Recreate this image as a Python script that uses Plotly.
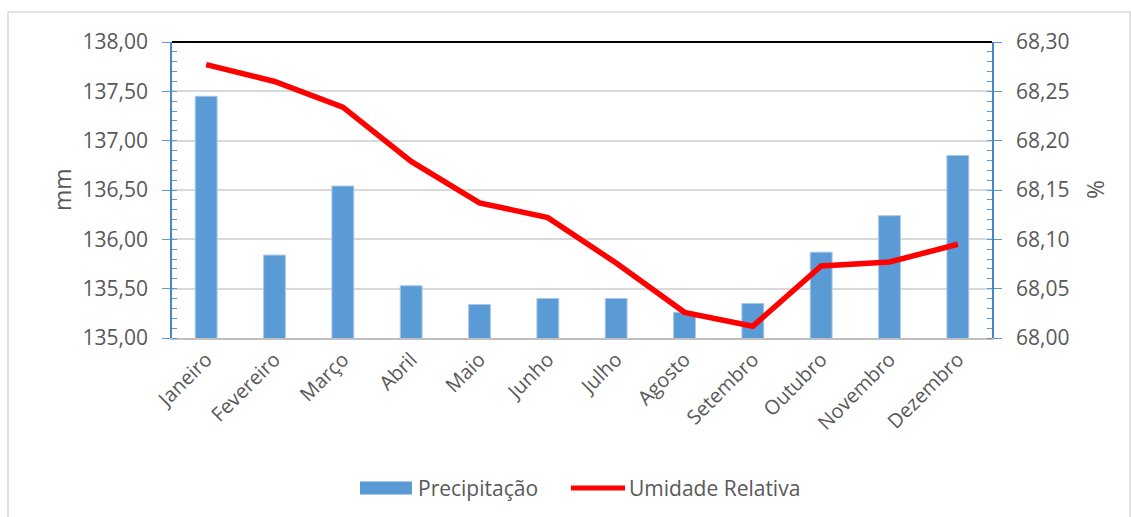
import plotly.graph_objects as go

# Monthly climate normals
meses = ["Janeiro", "Fevereiro", "Março", "Abril", "Maio", "Junho",
         "Julho", "Agosto", "Setembro", "Outubro", "Novembro", "Dezembro"]
precipitacao = [137.45, 135.84, 136.54, 135.53, 135.34, 135.40,
                135.40, 135.26, 135.35, 135.87, 136.24, 136.85]
umidade = [68.277, 68.260, 68.234, 68.179, 68.137, 68.122,
           68.076, 68.026, 68.012, 68.073, 68.077, 68.095]

mm_ticks = [135.0, 135.5, 136.0, 136.5, 137.0, 137.5, 138.0]
pct_ticks = [68.00, 68.05, 68.10, 68.15, 68.20, 68.25, 68.30]

NOME_PREC = "Precipitação"
NOME_UMID = "Umidade Relativa"


def fmt(v):
    return f"{v:.2f}".replace(".", ",")


W, H = 1131, 517
L, R, T, B = 172, 992, 42, 338

FONT = "Open Sans"
GREY = "#595959"
BLUE = "#5b9bd5"
RED = "#ff0000"

fig = go.Figure()
fig.add_trace(go.Bar(
    x=meses, y=precipitacao, name=NOME_PREC,
    marker=dict(color=BLUE, line=dict(color="#a9c9ea", width=1)),
    yaxis="y",
))
fig.add_trace(go.Scatter(
    x=meses, y=umidade, name=NOME_UMID, mode="lines",
    line=dict(color=RED, width=5.5),
    yaxis="y2",
))

axis_common = dict(
    showline=True, linecolor="#4a86c5", linewidth=1.5,
    ticks="outside", ticklen=8, tickcolor="#5b9bd5", tickwidth=1,
    ticklabelstandoff=10,
    tickfont=dict(family=FONT, size=21, color=GREY),
    zeroline=False,
)

fig.update_layout(
    width=W, height=H,
    margin=dict(l=L, r=W - R, t=T, b=H - B),
    paper_bgcolor="white", plot_bgcolor="white",
    bargap=0.68,
    showlegend=False,
    xaxis=dict(
        showline=True, linecolor="#bfbfbf", linewidth=2,
        tickangle=-45, ticks="",
        tickfont=dict(family=FONT, size=20, color=GREY),
    ),
    yaxis=dict(
        range=[135, 138], tickvals=mm_ticks,
        ticktext=[fmt(v) for v in mm_ticks],
        showgrid=True, gridcolor="#d9d9d9", gridwidth=1.5,
        minor=dict(ticks="inside", ticklen=5, tickcolor="#5b9bd5",
                   tick0=135, dtick=0.1, showgrid=False),
        **axis_common,
    ),
    yaxis2=dict(
        range=[68.0, 68.3], tickvals=pct_ticks,
        ticktext=[fmt(v) for v in pct_ticks],
        overlaying="y", side="right", showgrid=False,
        minor=dict(ticks="inside", ticklen=5, tickcolor="#5b9bd5",
                   tick0=68.0, dtick=0.01, showgrid=False),
        **axis_common,
    ),
)


def px_x(x):
    return (x - L) / (R - L)


def px_y(y):
    return (B - y) / (B - T)


# Black top edge of the plot area and the light outer frame
fig.add_shape(type="line", xref="x domain", yref="y domain",
              x0=0, x1=1, y0=1, y1=1, line=dict(color="black", width=2))
fig.add_shape(type="rect", xref="paper", yref="paper",
              x0=px_x(8), x1=px_x(1130), y0=px_y(530), y1=px_y(12),
              line=dict(color="#d9d9d9", width=1.5), layer="below")

# Axis titles
fig.add_annotation(text="mm", xref="paper", yref="paper",
                   x=px_x(62), y=0.5, xanchor="center", yanchor="middle",
                   textangle=-90, showarrow=False,
                   font=dict(family=FONT, size=23, color=GREY))
fig.add_annotation(text="%", xref="paper", yref="paper",
                   x=px_x(1095), y=0.5, xanchor="center", yanchor="middle",
                   textangle=-90, showarrow=False,
                   font=dict(family=FONT, size=23, color=GREY))

# Legend below the plot: wide swatch for the bars, thick stroke for the line
ly = px_y(488)
fig.add_shape(type="rect", xref="paper", yref="paper",
              x0=px_x(360), x1=px_x(412), y0=px_y(494.5), y1=px_y(481.5),
              fillcolor=BLUE, line=dict(width=0))
fig.add_annotation(text=NOME_PREC, xref="paper", yref="paper",
                   x=px_x(416), y=ly, xanchor="left", yanchor="middle",
                   showarrow=False, font=dict(family=FONT, size=21, color=GREY))
fig.add_shape(type="line", xref="paper", yref="paper",
              x0=px_x(571), x1=px_x(625), y0=ly, y1=ly,
              line=dict(color=RED, width=5))
fig.add_annotation(text=NOME_UMID, xref="paper", yref="paper",
                   x=px_x(627), y=ly, xanchor="left", yanchor="middle",
                   showarrow=False, font=dict(family=FONT, size=21, color=GREY))

fig.write_html("out.html")
